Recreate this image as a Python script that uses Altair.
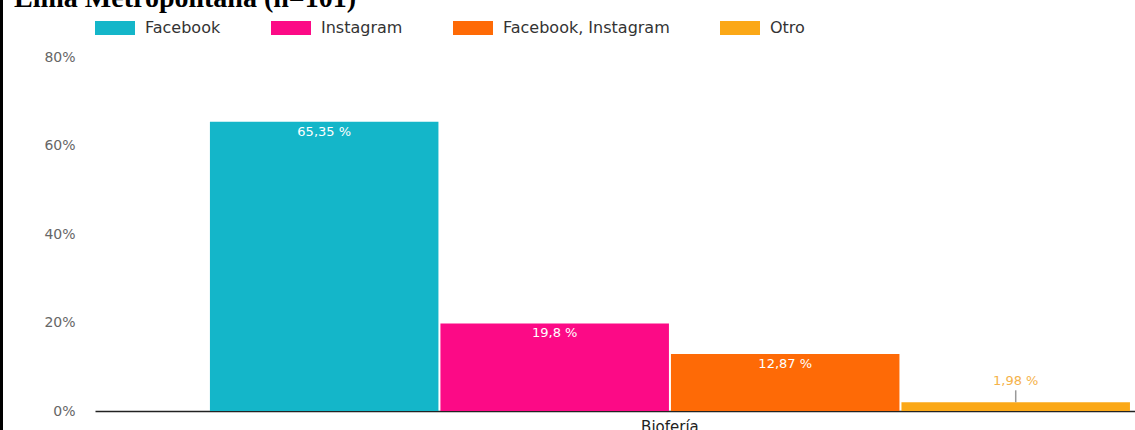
import altair as alt
import pandas as pd

grupo = ["Biofería", "Biofería", "Biofería", "Biofería"]
series = ["Facebook", "Instagram", "Facebook, Instagram", "Otro"]
valores = [65.35, 19.80, 12.87, 1.98]
etiquetas = ["65,35 %", "19,8 %", "12,87 %", "1,98 %"]
colores = ["#14b6c9", "#fc0a86", "#fe6a06", "#fba817"]
y_ticks = [0, 20, 40, 60, 80]
titulo = "Lima Metropolitana (n=101)"

df = pd.DataFrame({"grupo": grupo, "serie": series, "valor": valores, "etiqueta": etiquetas})

FONT = "DejaVu Sans"

x = alt.X(
    "grupo:N", title=None,
    scale=alt.Scale(paddingInner=0, paddingOuter=0.0652, align=0.958),
    axis=alt.Axis(ticks=False, domain=True, domainColor="#222", domainWidth=1.5,
                  labelFontSize=15, labelColor="#222", labelPadding=8, labelAngle=0,
                  labelFont=FONT),
)
xo = alt.XOffset("serie:N", sort=series, scale=alt.Scale(paddingInner=0.0087, paddingOuter=0))
y = alt.Y(
    "valor:Q", title=None,
    scale=alt.Scale(domain=[0, 80], nice=False),
    axis=alt.Axis(values=y_ticks, labelExpr="datum.value + '%'", grid=False, domain=False,
                  ticks=False, labelPadding=20, labelFontSize=14, labelColor="#666",
                  labelFont=FONT),
)
color = alt.Color(
    "serie:N", sort=series,
    scale=alt.Scale(domain=series, range=colores),
    legend=alt.Legend(
        orient="none", legendX=0, legendY=-49, direction="horizontal", title=None,
        symbolType="M-1,-0.35L1,-0.35L1,0.35L-1,0.35Z", symbolSize=1600,
        symbolStrokeWidth=0, symbolOpacity=1,
        labelFontSize=16, labelColor="#333", labelFont=FONT, labelOffset=10,
        labelLimit=400, columnPadding=50,
    ),
)

base = alt.Chart(df)

bars = base.mark_bar(opacity=1).encode(x=x, xOffset=xo, y=y, color=color)

inside = base.transform_filter("datum.valor > 5").mark_text(
    color="white", fontSize=13, font=FONT, baseline="top", dy=4
).encode(x=x, xOffset=xo, y=y, text="etiqueta:N")

outside = base.transform_filter("datum.valor <= 5").mark_text(
    color="#f5b24a", fontSize=13, font=FONT, baseline="middle", dy=-21
).encode(x=x, xOffset=xo, y=y, text="etiqueta:N")

leader = base.transform_filter("datum.valor <= 5").transform_calculate(
    tope="datum.valor + 2.7"
).mark_rule(color="#999", strokeWidth=1.5).encode(
    x=x, xOffset=xo, y=y, y2="tope:Q"
)

title_df = pd.DataFrame({"t": [titulo]})
title_mark = alt.Chart(title_df).mark_text(
    font="Liberation Serif", fontWeight="bold", fontSize=28, align="left",
    baseline="alphabetic", color="#000"
).encode(x=alt.value(-81), y=alt.value(-50), text="t:N")

border = alt.Chart(title_df).mark_rule(color="#000", strokeWidth=3).encode(
    x=alt.value(-93.5), y=alt.value(-57), y2=alt.value(373)
)

chart = alt.layer(bars, inside, outside, leader, title_mark, border).properties(
    width=1040, height=354,
    autosize=alt.AutoSizeParams(type="none"),
    padding={"left": 95, "top": 57, "right": 0, "bottom": 19},
    background="white",
).configure_view(stroke=None)

chart.save("out.html", embed_options={"renderer": "svg", "actions": False})
